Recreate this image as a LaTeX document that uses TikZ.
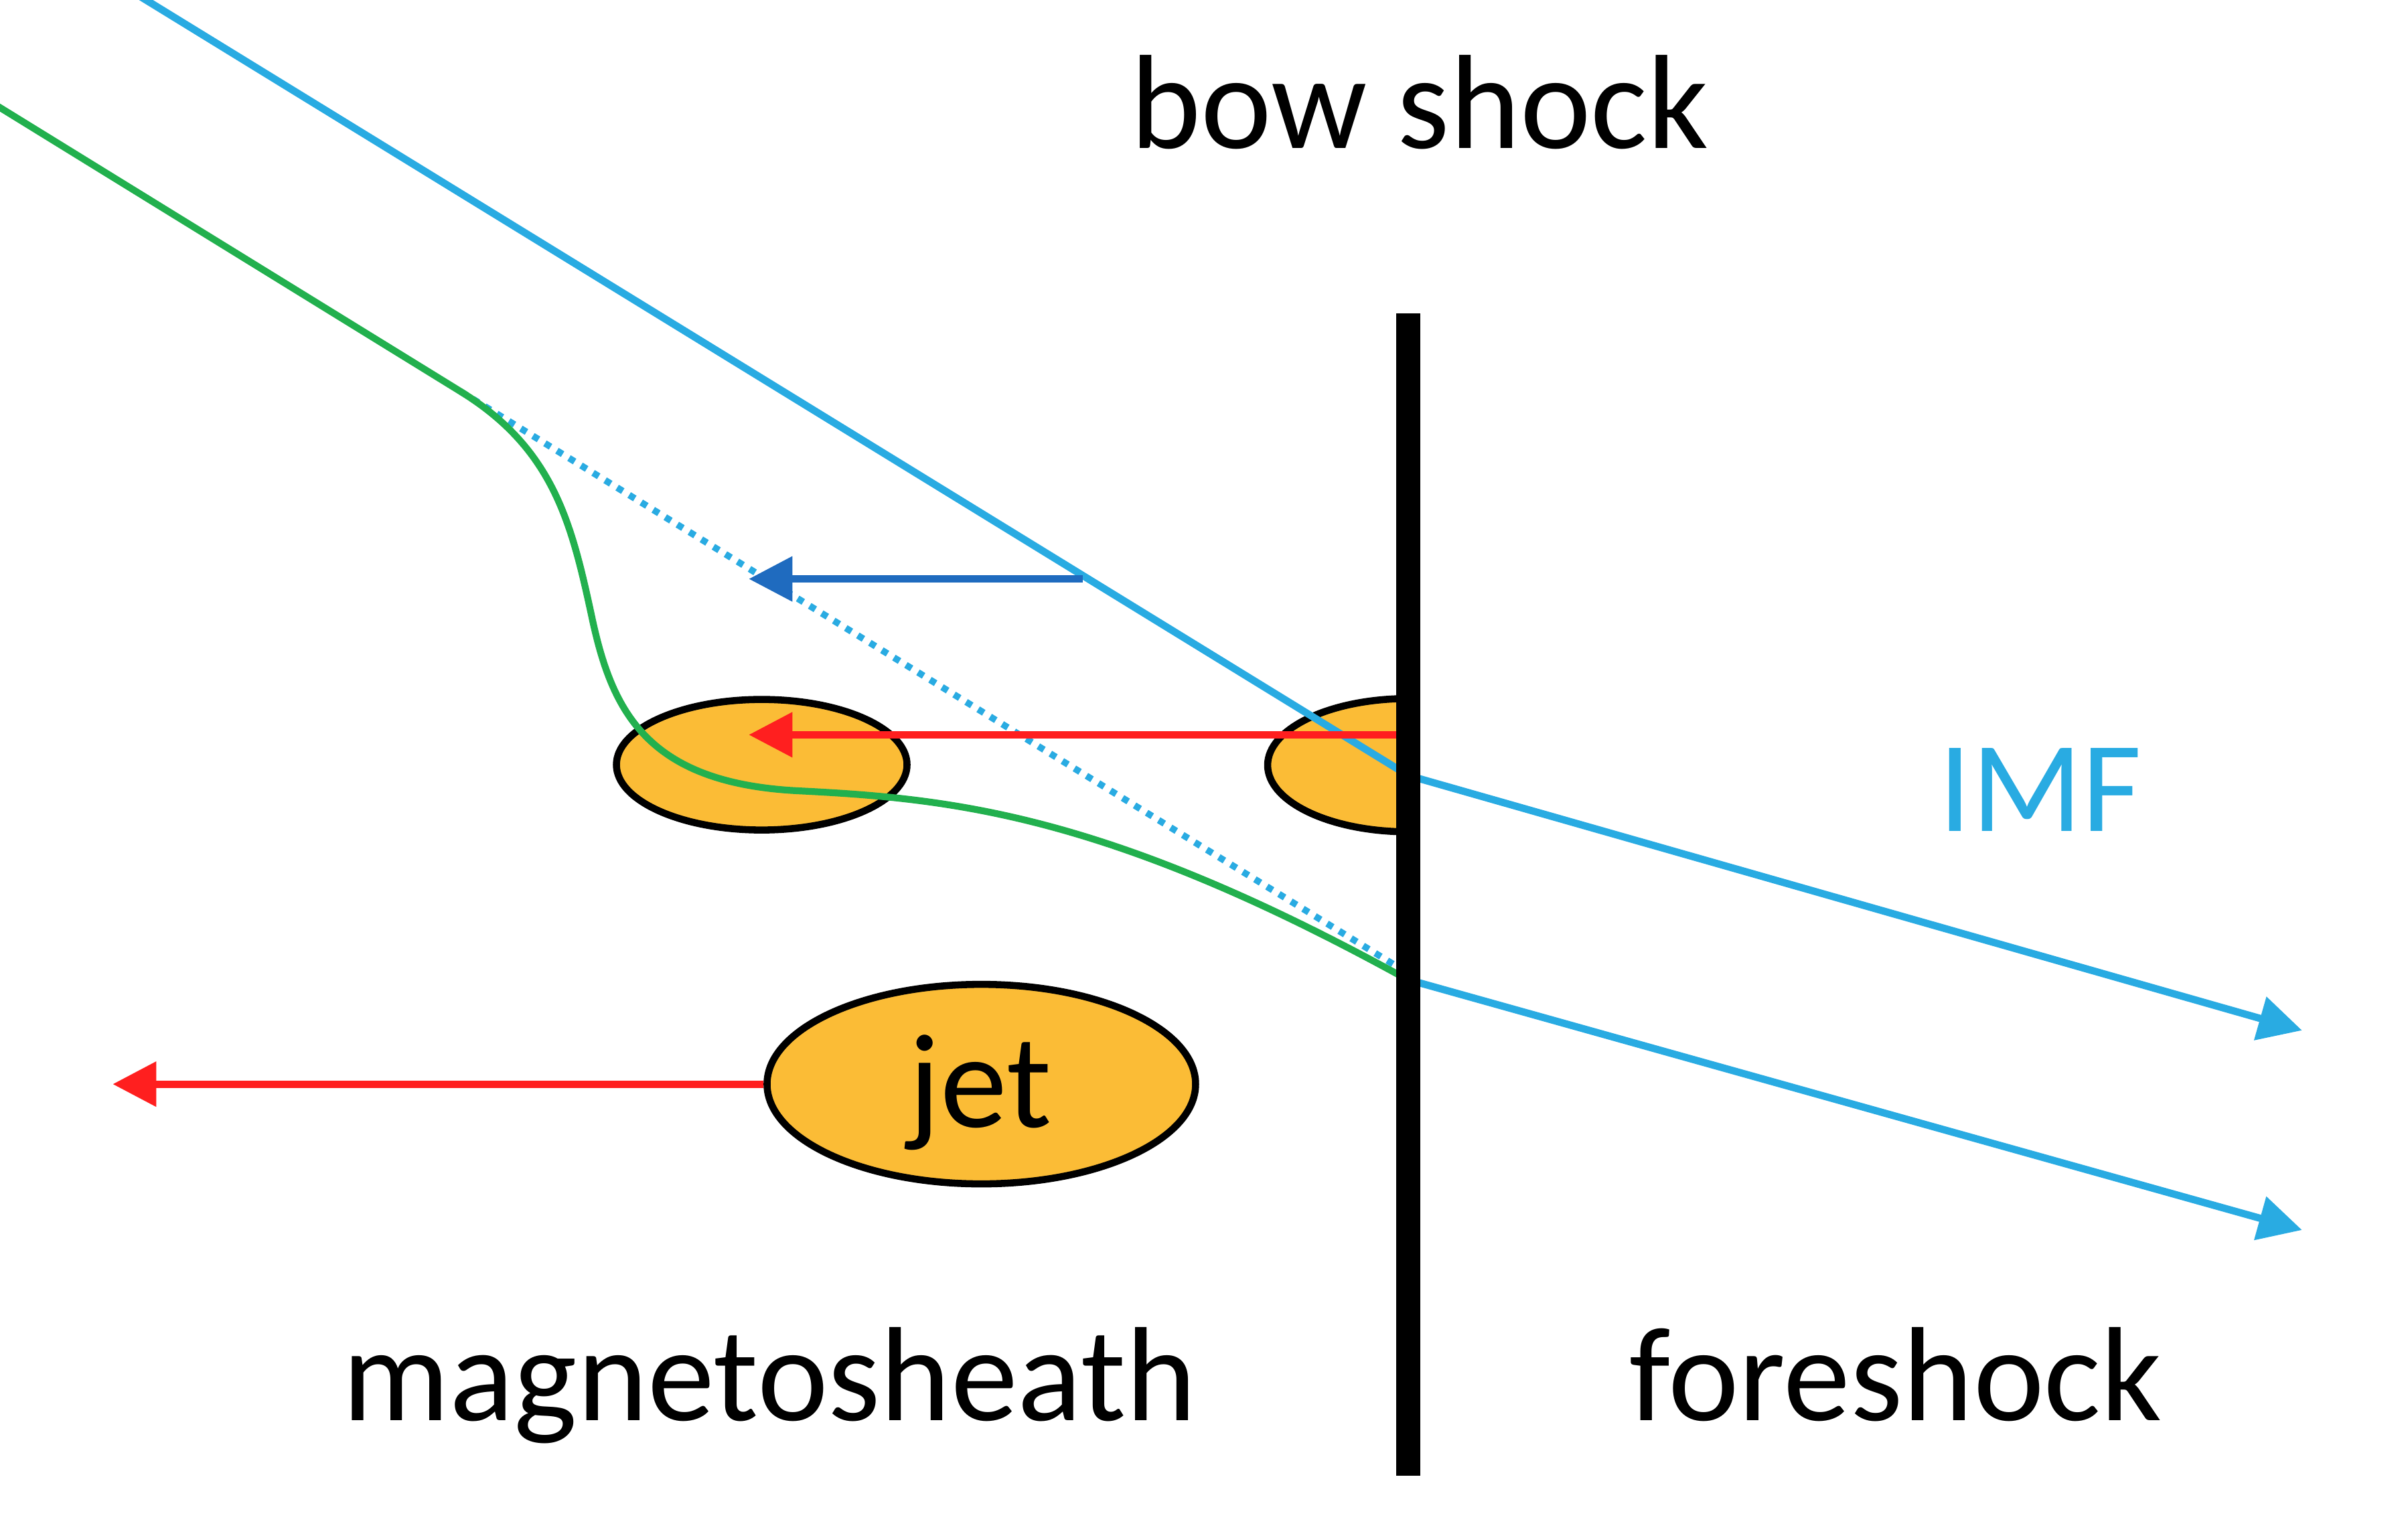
\documentclass[tikz,border=0pt]{standalone}
\usepackage{fontspec}
\setmainfont{Carlito}
\usetikzlibrary{arrows.meta,shapes.geometric}
\definecolor{imf}{HTML}{29ABE2}
\definecolor{fieldgreen}{HTML}{22B04E}
\definecolor{jetred}{HTML}{FF1F1F}
\definecolor{flowblue}{HTML}{1F6BBF}
\definecolor{jetfill}{HTML}{FBBC36}
\begin{document}
\begin{tikzpicture}[x=0.022934cm,y=-0.022934cm,
  lab/.style={font=\fontsize{57pt}{68pt}\selectfont, inner sep=0pt, anchor=base},
  blob/.style={ellipse, draw=black, line width=3pt, fill=jetfill, inner sep=0pt},
  tipstyle/.style={-{Triangle[length=18.5pt,width=18.5pt]}},
  imfline/.style={draw=imf, line width=3.1pt, line join=miter},
  redarrow/.style={draw=jetred, line width=3.1pt, tipstyle},
  bluearrow/.style={draw=flowblue, line width=3.1pt, tipstyle},
  greenline/.style={draw=fieldgreen, line width=2.9pt},
  dotline/.style={draw=imf, line width=2.8pt, dash pattern=on 2.8pt off 3.2pt},
  shockbar/.style={draw=black, line width=10.5pt}
]
\useasboundingbox (0,0) rectangle (1568,1000);

% coordinates
\coordinate (bstop) at (917,204);
\coordinate (bsbot) at (917,961);
\coordinate (imfA) at (78.8,-10);
\coordinate (imfK) at (917,505);
\coordinate (imfT) at (1499,671);
\coordinate (imfL) at (917,638);
\coordinate (imfLT) at (1499,801);
\coordinate (fieldA) at (-10,63.9);
\coordinate (fieldB) at (300,255);
\coordinate (dotE) at (910,629.6);
\coordinate (fieldE) at (913,636);
\coordinate (redS) at (912,478.5);
\coordinate (redT) at (487.6,478.5);
\coordinate (flowS) at (705,377);
\coordinate (flowT) at (487.6,377);
\coordinate (jetT) at (73.4,706);

% blobs
\node[blob, minimum width=4.34cm, minimum height=1.95cm] (blobA) at (496,498) {};
\begin{scope}
  \clip (0,0) rectangle (917,1000);
  \node[blob, minimum width=4.2cm, minimum height=1.99cm] (blobB) at (917,498.3) {};
\end{scope}
\node[blob, minimum width=6.4cm, minimum height=2.98cm] (jet) at (639,706) {};
\node[lab] (jetlabel) at (638,734) {jet};

% field lines
\draw[dotline] (fieldB) -- (dotE);
\draw[greenline] (fieldA) -- (fieldB)
  .. controls (360,292) and (372,340) .. (385,400)
  .. controls (398,462) and (420,510) .. (520,515)
  .. controls (620,520) and (720,530) .. (fieldE);

\draw[imfline, tipstyle] (imfA) -- (imfK) -- (imfT);
\draw[imfline, tipstyle] (imfL) -- (imfLT);

% flows
\draw[bluearrow] (flowS) -- (flowT);
\draw[redarrow] (redS) -- (redT);
\draw[redarrow] (jet.west) -- (jetT);

% bow shock
\draw[shockbar] (bstop) -- (bsbot);

% labels
\node[lab] (bowlabel) at (924.5,96.4) {bow shock};
\node[lab, text=imf, font=\fontsize{55pt}{66pt}\selectfont] (imflabel) at (1328.5,541.5) {IMF};
\node[lab] (mshlabel) at (501,925) {magnetosheath};
\node[lab] (fshlabel) at (1234.5,925) {foreshock};
\end{tikzpicture}
\end{document}
